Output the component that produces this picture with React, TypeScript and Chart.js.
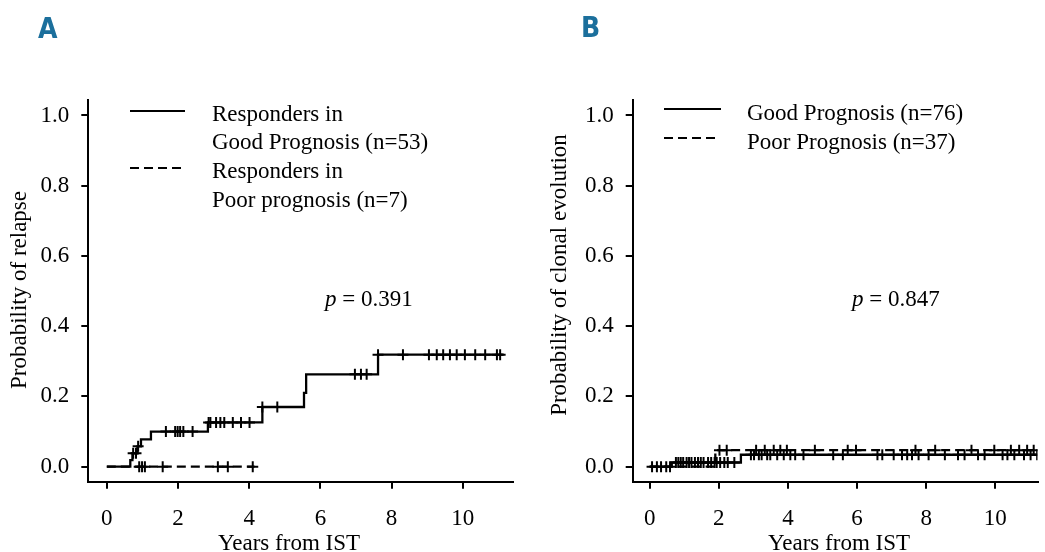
import React, { useEffect, useRef } from "react";
import { Chart, registerables } from "chart.js";

Chart.register(...registerables);

// ---------- shared axis ticks ----------
const X_TICKS = [0, 2, 4, 6, 8, 10];
const Y_TICKS = [0, 0.2, 0.4, 0.6, 0.8, 1.0];

// ---------- Panel A : probability of relapse ----------
const A_GOOD_TIME = [0, 0.66, 0.72, 0.86, 0.96, 1.24, 2.84, 4.37, 5.54, 5.6, 7.62, 11.15];
const A_GOOD_PROB = [0, 0.019, 0.038, 0.058, 0.078, 0.1, 0.126, 0.17, 0.21, 0.263, 0.319, 0.319];
const A_GOOD_CENSOR = [
  0.74, 0.82, 0.88, 1.66, 1.92, 1.99, 2.06, 2.15, 2.41, 2.86, 2.91, 3.07, 3.19, 3.3, 3.54, 3.77,
  4.01, 4.37, 4.79, 6.97, 7.14, 7.3, 7.62, 8.32, 9.05, 9.27, 9.45, 9.64, 9.83, 10.06, 10.35, 10.63,
  10.96, 11.05,
];
const A_POOR_TIME = [0, 4.15];
const A_POOR_PROB = [0, 0];
const A_POOR_CENSOR = [0.91, 0.99, 1.07, 1.57, 3.12, 3.4, 4.1];

// ---------- Panel B : probability of clonal evolution ----------
const B_GOOD_TIME = [0, 0.64, 2.64, 11.22];
const B_GOOD_PROB = [0, 0.012, 0.034, 0.034];
const B_GOOD_CENSOR = [
  0.07, 0.33, 0.59, 0.76, 0.83, 0.9, 0.97, 1.07, 1.14, 1.21, 1.31, 1.4, 1.48, 1.56, 1.69, 1.78,
  1.88, 1.94, 2.04, 2.16, 2.26, 2.45, 2.93, 3.02, 3.16, 3.24, 3.4, 3.49, 3.69, 3.88, 4.07, 4.21,
  4.45, 5.31, 5.59, 6.59, 6.73, 7.06, 7.3, 7.45, 7.59, 7.78, 8.07, 8.54, 8.92, 9.11, 9.5, 9.69,
  10.21, 10.35, 10.55, 10.83, 11.02, 11.21,
];
const B_POOR_TIME = [0, 1.9, 11.22];
const B_POOR_PROB = [0, 0.047, 0.047];
const B_POOR_CENSOR = [
  0.21, 0.48, 2.02, 2.23, 3.08, 3.33, 3.59, 3.78, 3.97, 4.78, 5.73, 5.97, 7.69, 8.26, 9.31, 9.97,
  10.45, 10.69, 10.92, 11.11,
];

const SERIF = '"Liberation Serif", "Times New Roman", "DejaVu Serif", serif';
const LETTER_FONT =
  'bold 28px "Liberation Sans Narrow", "DejaVu Sans Condensed", "Roboto Condensed", "Liberation Sans", sans-serif';
const LETTER_COLOR = "#1b6f9c";

function stepAt(times: number[], probs: number[], t: number): number {
  let v = probs[0];
  for (let i = 0; i < times.length; i++) if (times[i] <= t + 1e-9) v = probs[i];
  return v;
}

function curve(times: number[], probs: number[], dashed: boolean) {
  return {
    data: times.map((t, i) => ({ x: t, y: probs[i] })),
    stepped: "before" as const,
    borderColor: "#000",
    borderWidth: 2.3,
    borderDash: dashed ? [9, 5] : [],
    pointRadius: 0,
    fill: false,
  };
}

function censors(times: number[], probs: number[], cens: number[]) {
  return {
    data: cens.map((t) => ({ x: t, y: stepAt(times, probs, t) })),
    showLine: false,
    pointStyle: "cross" as const,
    pointRadius: 5.5,
    pointHoverRadius: 5.5,
    pointBorderWidth: 2,
    borderColor: "#000",
    backgroundColor: "#000",
  };
}

function txt(ctx: CanvasRenderingContext2D, s: string, x: number, y: number, font: string, align: CanvasTextAlign = "left") {
  ctx.font = font;
  ctx.fillStyle = "#000";
  ctx.textAlign = align;
  ctx.textBaseline = "alphabetic";
  ctx.fillText(s, x, y);
}

function hline(ctx: CanvasRenderingContext2D, x1: number, x2: number, y: number, dash: number[]) {
  ctx.save();
  ctx.strokeStyle = "#000";
  ctx.lineWidth = 2;
  ctx.setLineDash(dash);
  ctx.beginPath();
  ctx.moveTo(x1, y);
  ctx.lineTo(x2, y);
  ctx.stroke();
  ctx.restore();
}

function vtitle(ctx: CanvasRenderingContext2D, s: string, x: number, y: number, font: string) {
  ctx.save();
  ctx.translate(x, y);
  ctx.rotate(-Math.PI / 2);
  ctx.font = font;
  ctx.fillStyle = "#000";
  ctx.textAlign = "center";
  ctx.textBaseline = "middle";
  ctx.fillText(s, 0, 0);
  ctx.restore();
}

function pValue(ctx: CanvasRenderingContext2D, value: string, x: number, y: number) {
  ctx.font = `italic 23px ${SERIF}`;
  ctx.fillStyle = "#000";
  ctx.textAlign = "left";
  ctx.textBaseline = "alphabetic";
  ctx.fillText("p", x, y);
  const w = ctx.measureText("p").width;
  ctx.font = `23px ${SERIF}`;
  ctx.fillText(" = " + value, x + w, y);
}

interface PanelSpec {
  width: number;
  yAxisWidth: number;
  padRight: number;
  xMin: number;
  xMax: number;
  datasets: any[];
  draw: (ctx: CanvasRenderingContext2D) => void;
}

const LEG_FONT = `23px ${SERIF}`;
const TITLE_FONT = `23px ${SERIF}`;
const YTITLE_FONT = `23px ${SERIF}`;

const PANEL_A: PanelSpec = {
  width: 530,
  yAxisWidth: 88.3,
  padRight: 530 - 513.3,
  xMin: -0.52,
  xMax: 11.42,
  datasets: [
    curve(A_GOOD_TIME, A_GOOD_PROB, false),
    curve(A_POOR_TIME, A_POOR_PROB, true),
    censors(A_GOOD_TIME, A_GOOD_PROB, A_GOOD_CENSOR),
    censors(A_POOR_TIME, A_POOR_PROB, A_POOR_CENSOR),
  ],
  draw: (ctx) => {
    ctx.font = LETTER_FONT;
    ctx.fillStyle = LETTER_COLOR;
    ctx.textAlign = "left";
    ctx.textBaseline = "alphabetic";
    ctx.fillText("A", 38, 38);
    hline(ctx, 130, 185, 111, []);
    txt(ctx, "Responders in", 212, 120.5, LEG_FONT);
    txt(ctx, "Good Prognosis (n=53)", 212, 149, LEG_FONT);
    hline(ctx, 130, 182, 168, [9, 5]);
    txt(ctx, "Responders in", 212, 178, LEG_FONT);
    txt(ctx, "Poor prognosis (n=7)", 212, 206.5, LEG_FONT);
    pValue(ctx, "0.391", 325, 306);
    txt(ctx, "Years from IST", 289, 550, TITLE_FONT, "center");
    vtitle(ctx, "Probability of relapse", 20, 290, YTITLE_FONT);
  },
};

const OFF_B = 540;
const PANEL_B: PanelSpec = {
  width: 505,
  yAxisWidth: 632.7 - OFF_B,
  padRight: 0,
  xMin: -0.49,
  xMax: 11.22,
  datasets: [
    curve(B_GOOD_TIME, B_GOOD_PROB, false),
    curve(B_POOR_TIME, B_POOR_PROB, true),
    censors(B_GOOD_TIME, B_GOOD_PROB, B_GOOD_CENSOR),
    censors(B_POOR_TIME, B_POOR_PROB, B_POOR_CENSOR),
  ],
  draw: (ctx) => {
    ctx.font = LETTER_FONT;
    ctx.fillStyle = LETTER_COLOR;
    ctx.textAlign = "left";
    ctx.textBaseline = "alphabetic";
    ctx.fillText("B", 581 - OFF_B, 37);
    hline(ctx, 664 - OFF_B, 721 - OFF_B, 109, []);
    txt(ctx, "Good Prognosis (n=76)", 747 - OFF_B, 120, LEG_FONT);
    hline(ctx, 664 - OFF_B, 718 - OFF_B, 138, [9, 5]);
    txt(ctx, "Poor Prognosis (n=37)", 747 - OFF_B, 148.5, LEG_FONT);
    pValue(ctx, "0.847", 852 - OFF_B, 306);
    txt(ctx, "Years from IST", 839 - OFF_B, 550, TITLE_FONT, "center");
    vtitle(ctx, "Probability of clonal evolution", 560 - OFF_B, 275, YTITLE_FONT);
  },
};

const CHART_BOTTOM = 481.7;
const CANVAS_H = 552;

function makeChart(canvas: HTMLCanvasElement, spec: PanelSpec) {
  const axisGrid = {
    display: true,
    drawOnChartArea: false,
    drawTicks: true,
    tickLength: 7,
    color: "#000",
    lineWidth: 2,
  };
  const axisBorder = { display: true, color: "#000", width: 2 };
  const textPlugin = {
    id: "panelText",
    afterDraw(chart: any) {
      const ctx = chart.ctx as CanvasRenderingContext2D;
      ctx.save();
      spec.draw(ctx);
      ctx.restore();
    },
  };
  return new Chart(canvas, {
    type: "line",
    data: { datasets: spec.datasets },
    options: {
      responsive: false,
      animation: false,
      events: [],
      layout: { padding: { top: 100, right: spec.padRight, left: 0, bottom: 0 } },
      plugins: { legend: { display: false }, tooltip: { enabled: false } },
      scales: {
        x: {
          type: "linear",
          min: spec.xMin,
          max: spec.xMax,
          afterBuildTicks: (s: any) => {
            s.ticks = X_TICKS.map((v) => ({ value: v }));
          },
          afterFit: (s: any) => {
            s.height = CANVAS_H - CHART_BOTTOM;
          },
          grid: axisGrid,
          border: axisBorder,
          ticks: {
            color: "#000",
            font: { family: SERIF, size: 23 },
            padding: 16,
            maxRotation: 0,
            autoSkip: false,
            callback: (v: any) => String(v),
          },
        },
        y: {
          type: "linear",
          min: -0.0427,
          max: 1.044,
          afterBuildTicks: (s: any) => {
            s.ticks = Y_TICKS.map((v) => ({ value: v }));
          },
          afterFit: (s: any) => {
            s.width = spec.yAxisWidth;
          },
          grid: axisGrid,
          border: axisBorder,
          ticks: {
            color: "#000",
            font: { family: SERIF, size: 23 },
            padding: 12,
            autoSkip: false,
            callback: (v: any) => Number(v).toFixed(1),
          },
        },
      },
    } as any,
    plugins: [textPlugin],
  });
}

function Panel({ spec, left }: { spec: PanelSpec; left: number }) {
  const ref = useRef<HTMLCanvasElement | null>(null);
  useEffect(() => {
    if (!ref.current) return;
    const chart = makeChart(ref.current, spec);
    return () => chart.destroy();
  }, [spec]);
  return (
    <canvas
      ref={ref}
      width={spec.width}
      height={CANVAS_H}
      style={{ position: "absolute", left, top: 0, width: spec.width, height: CANVAS_H, display: "block" }}
    />
  );
}

export default function App() {
  return (
    <div style={{ position: "fixed", left: 0, top: 0, width: 1045, height: 552, background: "#fff", overflow: "hidden" }}>
      <Panel spec={PANEL_A} left={0} />
      <Panel spec={PANEL_B} left={OFF_B} />
    </div>
  );
}
